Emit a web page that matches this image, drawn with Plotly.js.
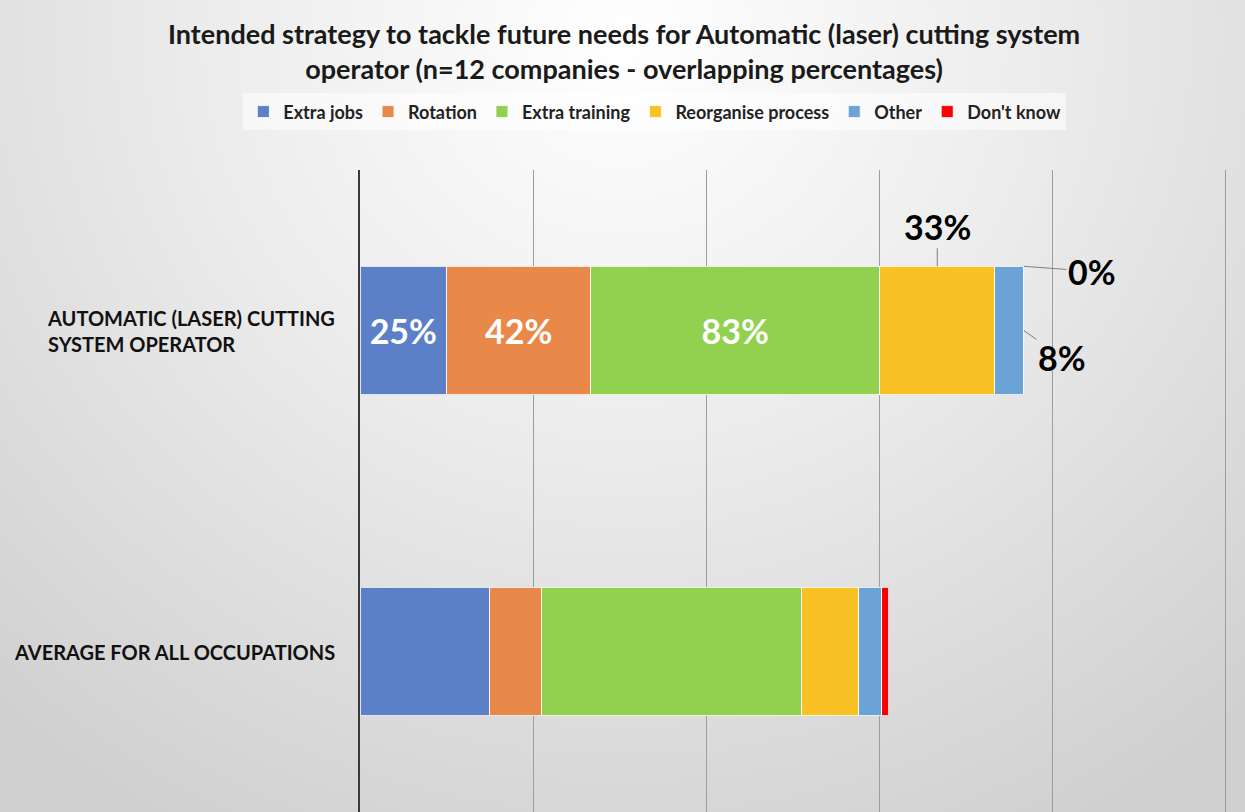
<!DOCTYPE html>
<html>
<head>
<meta charset="utf-8">
<script src="https://cdn.plot.ly/plotly-3.0.1.min.js"></script>
<style>
html,body{margin:0;padding:0;}
#chart{width:1245px;height:812px;background:radial-gradient(ellipse 75% 110% at 50% 5%, #ffffff 0%, #ececec 45%, #d0d0d0 100%);}
</style>
</head>
<body>
<div id="chart"></div>
<script>
const categories = ["AUTOMATIC (LASER) CUTTING<br>SYSTEM OPERATOR", "AVERAGE FOR ALL OCCUPATIONS"];
const seriesNames = ["Extra jobs", "Rotation", "Extra training", "Reorganise process", "Other", "Don't know"];
const extraJobs = [25, 37.5];
const rotation = [41.67, 15];
const extraTraining = [83.33, 75];
const reorganise = [33.33, 16.5];
const other = [8.33, 6.7];
const dontKnow = [0, 2];
const colors = ["#5B80C8", "#E8894A", "#92D050", "#F9C124", "#6CA3D6", "#FF0000"];
const insideLabels = [true, true, true, false, false, false];
const titleText = "Intended strategy to tackle future needs for Automatic (laser) cutting system<br>operator (n=12 companies - overlapping percentages)";

const allSeries = [extraJobs, rotation, extraTraining, reorganise, other, dontKnow];
const font = "Lato, 'Open Sans', sans-serif";

const traces = allSeries.map((vals, i) => ({
  type: "bar",
  orientation: "h",
  name: seriesNames[i],
  y: categories,
  x: vals,
  marker: {color: colors[i], line: {color: "rgba(255,255,255,0.8)", width: 1}},
  text: insideLabels[i] ? vals.map((v, j) => j === 0 ? Math.round(v) + "%" : "") : undefined,
  textposition: insideLabels[i] ? "inside" : "none",
  insidetextanchor: "middle",
  textfont: {family: font, size: 34, color: "#ffffff", weight: "bold"},
  constraintext: "none",
  hoverinfo: "x+name"
}));

// outside labels for the first category
const cum = [];
let s = 0;
allSeries.forEach(v => { cum.push(s); s += v[0]; });
const annFont = {family: font, size: 34, color: "#000000", weight: "bold"};
const annotations = [
  {x: cum[3] + reorganise[0] / 2, y: -0.2, xref: "x", yref: "y", text: "<b>" + Math.round(reorganise[0]) + "%</b>",
   showarrow: true, arrowhead: 0, arrowcolor: "#7f7f7f", arrowwidth: 1, ax: 0, ay: -40, standoff: 0, font: annFont},
  {x: cum[5] + dontKnow[0], y: -0.2, xref: "x", yref: "y", text: "<b>" + Math.round(dontKnow[0]) + "%</b>",
   showarrow: true, arrowhead: 0, arrowcolor: "#7f7f7f", arrowwidth: 1, ax: 68, ay: 5, standoff: 0, font: annFont},
  {x: cum[4] + other[0], y: 0, xref: "x", yref: "y", text: "<b>" + Math.round(other[0]) + "%</b>",
   showarrow: true, arrowhead: 0, arrowcolor: "#7f7f7f", arrowwidth: 1, ax: 38, ay: 27, standoff: 0, font: annFont},
  {x: 0.5, xref: "paper", y: 1.2414, yref: "paper", xanchor: "center", yanchor: "top", showarrow: false,
   text: "<b>" + titleText + "</b>", align: "center", xshift: -175,
   font: {family: font, size: 27, color: "#1a1a1a"}}
];
categories.forEach((c, i) => {
  annotations.push({x: -0.0262, xref: "paper", y: i, yref: "y", xanchor: "right", yanchor: "middle",
    align: "left", showarrow: false, text: "<b>" + c + "</b>",
    font: {family: font, size: 20, color: "#111111"}});
});

const layout = {
  width: 1245, height: 812,
  paper_bgcolor: "rgba(0,0,0,0)",
  plot_bgcolor: "rgba(0,0,0,0)",
  margin: {l: 360, r: 8, t: 170, b: 0, pad: 0},
  barmode: "stack",
  bargap: 0.6,
  showlegend: true,
  legend: {
    orientation: "h", xref: "container", yref: "container",
    x: 0.526, xanchor: "center", y: 0.885, yanchor: "top",
    bgcolor: "rgba(255,255,255,0.55)",
    font: {family: font, size: 18, color: "#222222", weight: "bold"},
    traceorder: "normal", itemwidth: 30, tracegroupgap: 0
  },
  xaxis: {
    range: [0, 253.2], dtick: 50, tick0: 0,
    showticklabels: false, showgrid: true, gridcolor: "#9d9d9d", gridwidth: 1,
    zeroline: false, showline: false, fixedrange: true
  },
  yaxis: {
    autorange: "reversed", showline: true, linecolor: "#3a3a3a", linewidth: 2,
    showgrid: false, ticks: "", showticklabels: false,
    fixedrange: true
  },
  annotations: annotations
};

Plotly.newPlot("chart", traces, layout, {displayModeBar: false});
</script>
</body>
</html>
